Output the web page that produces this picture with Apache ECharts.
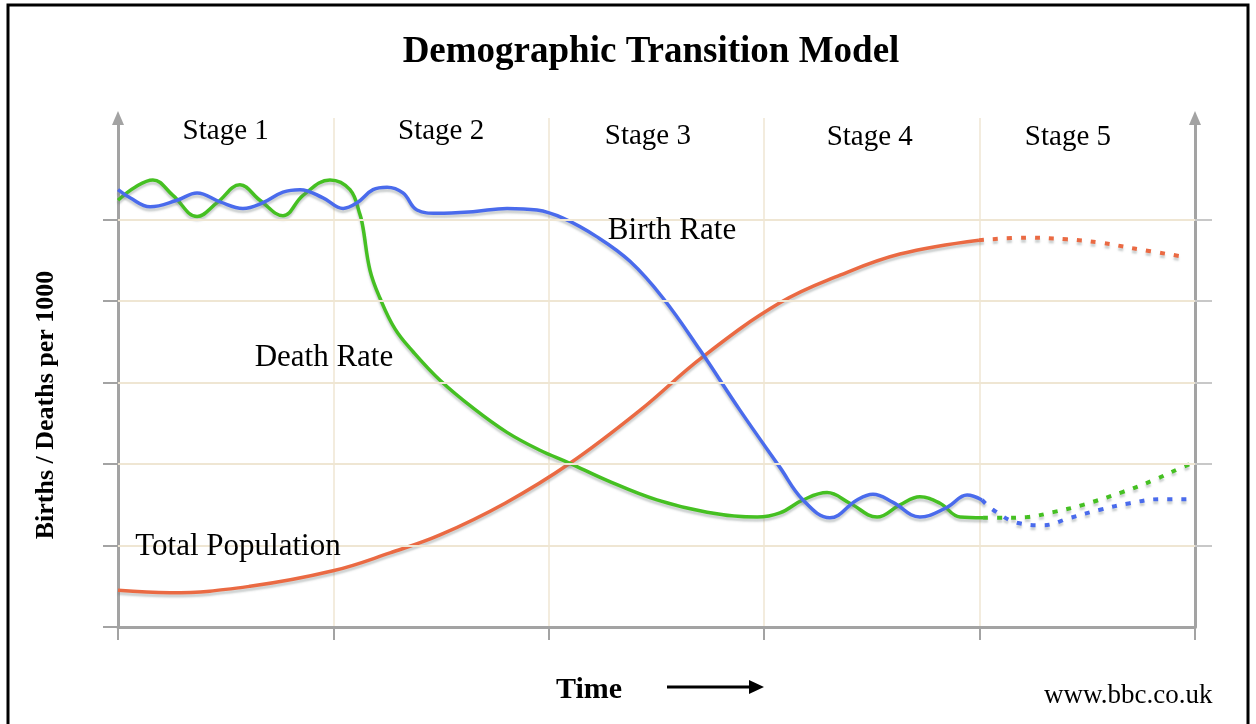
<!DOCTYPE html>
<html>
<head>
<meta charset="utf-8">
<script src="https://cdn.jsdelivr.net/npm/echarts@6/dist/echarts.min.js"></script>
<style>
  html, body { margin: 0; padding: 0; background: #fff; }
  #chart { width: 1256px; height: 724px; }
</style>
</head>
<body>
<div id="chart"></div>
<script>
// x is time in stages (0..5), y is rate per 1000
const birthSolid = [
  [0, 53.7], [0.056, 52.7], [0.149, 51.6], [0.274, 52.4], [0.367, 53.3], [0.474, 52.2],
  [0.58, 51.4], [0.673, 52.1], [0.766, 53.4], [0.845, 53.7], [0.952, 52.7], [1.045, 51.4],
  [1.11, 52.1], [1.184, 53.7], [1.249, 54.0], [1.323, 53.3], [1.388, 51.2], [1.481, 50.8],
  [1.648, 51.0], [1.806, 51.4], [1.945, 51.2], [2.066, 50.2], [2.224, 47.9], [2.377, 44.9],
  [2.53, 40.4], [2.702, 34.0], [2.888, 26.6], [3.073, 19.6], [3.18, 15.6], [3.305, 13.4],
  [3.431, 15.6], [3.505, 16.3], [3.598, 15.3], [3.723, 13.5], [3.849, 14.7], [3.942, 16.2],
  [4.011, 15.6]
];
const birthProjected = [
  [4.011, 15.6], [4.062, 14.4], [4.174, 12.8], [4.294, 12.5], [4.42, 13.4], [4.559, 14.4],
  [4.698, 15.2], [4.838, 15.7], [4.991, 15.7]
];
const deathSolid = [
  [0, 52.4], [0.079, 54.0], [0.162, 54.9], [0.255, 53.0], [0.367, 50.4], [0.46, 52.1],
  [0.566, 54.3], [0.659, 52.4], [0.766, 50.5], [0.859, 53.0], [0.984, 54.9], [1.077, 53.7],
  [1.124, 50.6], [1.137, 49.1], [1.17, 43.8], [1.216, 40.4], [1.286, 36.6], [1.37, 33.8],
  [1.495, 30.3], [1.648, 26.9], [1.806, 23.9], [1.959, 21.7], [2.098, 20.1], [2.27, 18.0],
  [2.502, 15.6], [2.735, 14.1], [2.967, 13.5], [3.073, 14.0], [3.18, 15.6], [3.292, 16.5],
  [3.398, 15.2], [3.524, 13.5], [3.63, 15.0], [3.723, 16.0], [3.816, 15.2], [3.909, 13.5],
  [4.016, 13.4]
];
const deathProjected = [
  [4.016, 13.4], [4.095, 13.4], [4.22, 13.5], [4.341, 14.1], [4.48, 15.0], [4.666, 16.6],
  [4.805, 18.0], [4.93, 19.5], [4.977, 20.0]
];
const popSolid = [
  [0, 4.5], [0.241, 4.2], [0.613, 5.0], [0.998, 6.9], [1.263, 9.1], [1.495, 11.3],
  [1.797, 15.2], [2.098, 20.1], [2.423, 26.6], [2.716, 33.2], [3.073, 39.8], [3.352, 43.2],
  [3.63, 45.8], [3.997, 47.5]
];
const popProjected = [
  [3.997, 47.5], [4.22, 47.8], [4.406, 47.6], [4.559, 47.2], [4.712, 46.5], [4.963, 45.4]
];
const gridLevels = [10, 20, 30, 40, 50];
const stageLabels = [
  ['Stage 1', 0.5, 60.9], ['Stage 2', 1.5, 60.8], ['Stage 3', 2.46, 60.3],
  ['Stage 4', 3.49, 60.1], ['Stage 5', 4.41, 60.1]
];
const curveLabels = [
  ['Birth Rate', 2.572, 48.6], ['Death Rate', 0.956, 33.0], ['Total Population', 0.557, 9.8]
];

const serif = "'Liberation Serif', 'Times New Roman', serif";
const axisGray = '#a3a3a3';
const gridTan = '#efe6d3';
const blue = '#4a6bec';
const green = '#45c022';
const orange = '#ea6a43';

function curve(data, color, dotted) {
  return {
    type: 'line',
    data: data,
    smooth: 0.4,
    symbol: 'none',
    z: 3,
    silent: true,
    lineStyle: {
      color: color,
      width: dotted ? 4 : 3.5,
      type: dotted ? [5, 9] : 'solid',
      shadowColor: 'rgba(110,120,120,0.35)',
      shadowBlur: 2,
      shadowOffsetY: 3
    }
  };
}

function labelSeries(items, size) {
  return {
    type: 'scatter',
    symbolSize: 0,
    silent: true,
    z: 5,
    itemStyle: { opacity: 1 },
    data: items.map(d => ({ value: [d[1], d[2]], name: d[0] })),
    label: {
      show: true,
      position: 'inside',
      formatter: p => p.name,
      color: '#000',
      opacity: 1,
      textBorderWidth: 0,
      fontFamily: serif,
      fontSize: size
    }
  };
}

const chart = echarts.init(document.getElementById('chart'));
chart.setOption({
  animation: false,
  backgroundColor: '#fff',
  grid: { left: 118, right: 61, top: 118, bottom: 97 },
  xAxis: {
    type: 'value',
    min: 0, max: 5, interval: 1,
    axisLine: { show: true, lineStyle: { color: axisGray, width: 3 } },
    axisTick: { show: true, length: 13, lineStyle: { color: axisGray, width: 2 } },
    axisLabel: { show: false },
    splitLine: { show: true, lineStyle: { color: gridTan, width: 1.5 } }
  },
  yAxis: [
    {
      type: 'value',
      min: 0, max: 62.5, interval: 10,
      axisLine: {
        show: true, symbol: ['none', 'triangle'], symbolSize: [12, 14],
        lineStyle: { color: axisGray, width: 3 }
      },
      axisTick: { show: true, length: 15, customValues: [0, 10, 20, 30, 40, 50], lineStyle: { color: axisGray, width: 2 } },
      axisLabel: { show: false },
      splitLine: { show: false }
    },
    {
      type: 'value', position: 'right',
      min: 0, max: 62.5, interval: 10,
      axisLine: {
        show: true, symbol: ['none', 'triangle'], symbolSize: [12, 14],
        lineStyle: { color: axisGray, width: 3 }
      },
      axisTick: { show: true, length: 17, customValues: [10, 20, 30, 40, 50], lineStyle: { color: '#c8c8c8', width: 2 } },
      axisLabel: { show: false },
      splitLine: { show: false }
    }
  ],
  series: [
    {
      type: 'line',
      data: [],
      z: 1,
      silent: true,
      markLine: {
        silent: true,
        symbol: 'none',
        label: { show: false },
        lineStyle: { color: gridTan, width: 2, type: 'solid' },
        data: gridLevels.map(v => ({ yAxis: v }))
      }
    },
    curve(popSolid, orange, false),
    curve(popProjected, orange, true),
    curve(deathSolid, green, false),
    curve(deathProjected, green, true),
    curve(birthSolid, blue, false),
    curve(birthProjected, blue, true),
    labelSeries(stageLabels, 29),
    labelSeries(curveLabels, 31)
  ],
  graphic: [
    {
      type: 'rect', silent: true,
      shape: { x: 8, y: 5, width: 1240, height: 740 },
      style: { fill: 'none', stroke: '#000', lineWidth: 3 }
    },
    {
      type: 'text', x: 651, y: 52,
      style: {
        text: 'Demographic Transition Model', font: "bold 37px 'Liberation Serif', serif",
        fill: '#000', align: 'center', verticalAlign: 'middle'
      }
    },
    {
      type: 'text', x: 46, y: 405, rotation: Math.PI / 2,
      style: {
        text: 'Births / Deaths per 1000', font: "bold 26px 'Liberation Serif', serif",
        fill: '#000', align: 'center', verticalAlign: 'middle'
      }
    },
    {
      type: 'text', x: 556, y: 690,
      style: { text: 'Time', font: "bold 30px 'Liberation Serif', serif", fill: '#000', verticalAlign: 'middle' }
    },
    {
      type: 'line', shape: { x1: 667, y1: 687, x2: 752, y2: 687 },
      style: { stroke: '#000', lineWidth: 3 }
    },
    {
      type: 'polygon', shape: { points: [[749, 680], [764, 687], [749, 694]] },
      style: { fill: '#000' }
    },
    {
      type: 'text', x: 1044, y: 696,
      style: { text: 'www.bbc.co.uk', font: "27px 'Liberation Serif', serif", fill: '#000', verticalAlign: 'middle' }
    }
  ]
});
</script>
</body>
</html>
